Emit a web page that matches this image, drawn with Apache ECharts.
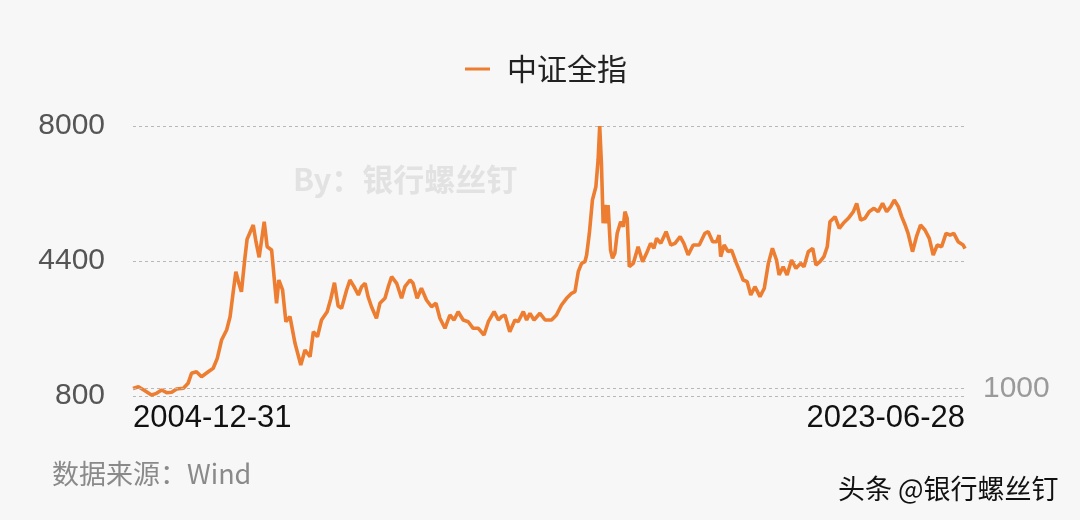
<!DOCTYPE html>
<html>
<head>
<meta charset="utf-8">
<script src="https://cdn.jsdelivr.net/npm/echarts@6/dist/echarts.min.js"></script>
<style>
html,body{margin:0;padding:0;background:#f7f7f7;}
#chart{width:1080px;height:520px;}
</style>
</head>
<body>
<div id="chart"></div>
<script>
const seriesName = '中证全指';
const dates = [
'2004-12-31','2005-02-13','2005-04-07','2005-05-30','2005-07-10','2005-08-20','2005-09-30','2005-11-10','2005-12-20',
'2006-02-13','2006-03-23','2006-04-20','2006-05-30','2006-07-10','2006-09-03','2006-10-13','2006-11-15','2006-12-20',
'2007-01-30','2007-02-27','2007-03-23','2007-04-15','2007-05-09','2007-05-30','2007-06-27','2007-07-15','2007-09-03','2007-09-25','2007-10-21','2007-12-01','2007-12-25',
'2008-01-30','2008-03-10','2008-03-29','2008-04-28','2008-05-25','2008-06-27','2008-08-07','2008-09-23','2008-10-27','2008-12-07',
'2009-01-03','2009-02-05','2009-03-10','2009-04-25','2009-05-25','2009-06-23','2009-07-23','2009-08-20','2009-09-30','2009-10-27','2009-11-29',
'2010-01-03','2010-01-30','2010-02-27','2010-03-23','2010-04-20','2010-05-30','2010-06-27','2010-08-07','2010-09-03','2010-09-30','2010-11-10','2010-12-20',
'2011-01-16','2011-02-27','2011-03-23','2011-04-25','2011-05-30','2011-07-10','2011-08-20','2011-09-25','2011-10-27','2011-12-07',
'2012-01-16','2012-02-19','2012-03-23','2012-05-03','2012-06-13','2012-07-23','2012-09-03','2012-10-19','2012-11-23',
'2013-01-09','2013-02-13','2013-03-10','2013-04-07','2013-05-16','2013-06-27','2013-07-23','2013-09-03','2013-09-30','2013-10-27','2013-11-29',
'2014-01-16','2014-02-27','2014-04-20','2014-05-30','2014-07-10','2014-08-20','2014-09-30','2014-10-27','2014-11-23','2014-12-20',
'2015-01-16','2015-01-30','2015-02-21','2015-03-18','2015-04-15','2015-05-03','2015-05-16','2015-05-30','2015-06-13','2015-06-27','2015-07-10','2015-07-23','2015-08-12','2015-08-28','2015-09-16','2015-10-05','2015-11-02','2015-11-23','2015-12-07','2015-12-25',
'2016-01-11','2016-02-13','2016-03-23','2016-04-28','2016-05-30','2016-07-02','2016-07-29','2016-08-20','2016-09-23','2016-11-05','2016-12-13',
'2017-01-16','2017-02-27','2017-03-29','2017-05-03','2017-06-13','2017-08-01','2017-09-16','2017-10-13','2017-11-18','2017-12-20',
'2018-01-09','2018-01-22','2018-02-19','2018-03-23','2018-04-20','2018-05-30','2018-06-27','2018-07-23','2018-08-25','2018-09-23','2018-10-27','2018-12-07',
'2019-01-11','2019-02-13','2019-03-18','2019-04-20','2019-05-11','2019-06-13','2019-07-15','2019-08-20','2019-09-25','2019-11-02','2019-11-29',
'2020-01-03','2020-02-08','2020-03-05','2020-04-07','2020-05-09','2020-06-05','2020-06-27','2020-08-07','2020-09-11','2020-10-13','2020-11-23',
'2021-01-03','2021-01-30','2021-03-03','2021-04-07','2021-05-11','2021-06-19','2021-07-23','2021-08-28','2021-09-30','2021-11-02','2021-12-01',
'2022-01-03','2022-01-30','2022-02-27','2022-03-23','2022-04-28','2022-05-30','2022-07-02','2022-08-07','2022-09-11','2022-10-13','2022-11-15','2022-12-20',
'2023-01-25','2023-02-27','2023-03-29','2023-05-03','2023-06-13','2023-06-28'
];
const values = [
1000,1048,941,827,871,960,888,899,987,
1005,1139,1405,1448,1315,1448,1539,1805,2293,
2560,2915,3539,4115,3805,3581,4472,4978,5360,4915,4498,5448,4781,
4693,3272,3893,3627,2781,2915,2205,1627,2027,1848,
2515,2381,2827,3048,3400,3820,3200,3139,3627,3893,3715,
3493,3715,3805,3449,3181,2872,3272,3405,3715,3981,3805,3405,
3715,3893,3805,3405,3672,3360,3181,3272,2872,2605,
2960,2827,3048,2827,2781,2605,2605,2427,2781,
3048,2827,2915,2960,2515,2827,2781,3048,2827,3005,2827,
3005,2827,2827,2960,3227,3405,3539,3581,4115,4337,
4382,4560,5138,6027,6382,7093,8000,7004,5405,5893,5405,5893,4693,4472,4605,5138,5448,5315,5715,5538,
4248,4337,4781,4382,4605,4871,4738,5005,4871,5182,4827,
4871,5048,4871,4560,4827,4827,5138,5182,4915,4915,
5093,4515,4827,4648,4693,4337,4115,3893,3848,3493,3715,3449,
3672,4337,4738,4427,4027,4248,4027,4427,4205,4337,4248,
4648,4738,4293,4382,4515,4781,5448,5582,5271,5405,5538,
5715,5938,5493,5538,5715,5804,5715,5938,5715,5849,6027,
5849,5582,5360,5138,4648,5048,5360,5227,5005,4560,4827,4781,
5138,5093,5138,4915,4827,4730
];
const xEnds = ['2004-12-31','2023-06-28'];
const leftTicks = [800, 4400, 8000];
const rightTicks = [1000];

const latin = '"Liberation Sans","Noto Sans CJK SC",sans-serif';
const cjk = '"Noto Sans CJK SC","Liberation Sans",sans-serif';
const gridStyle = {type:[3,3], color:'#b8b8b8', width:1};

const chart = echarts.init(document.getElementById('chart'), null, {renderer:'canvas'});
const ts = s => Date.UTC(+s.slice(0,4), +s.slice(5,7)-1, +s.slice(8,10));
const fmt = v => { const d = new Date(v); const p = n => String(n).padStart(2,'0');
  return d.getUTCFullYear() + '-' + p(d.getUTCMonth()+1) + '-' + p(d.getUTCDate()); };

chart.setOption({
  backgroundColor:'#f7f7f7',
  animation:false,
  grid:{left:133, right:115, top:126, bottom:124},
  legend:{
    left:460, top:49, icon:'rect', itemWidth:25, itemHeight:3,
    textStyle:{fontSize:30, color:'#222', fontFamily:cjk, padding:[0,0,0,12]},
    data:[seriesName]
  },
  xAxis:{
    type:'value', min:ts(xEnds[0]), max:ts(xEnds[1]),
    axisLine:{show:false}, axisTick:{show:false}, splitLine:{show:false},
    axisLabel:{
      customValues: xEnds.map(ts),
      alignMinLabel:'left', alignMaxLabel:'right',
      margin:7, fontSize:31, color:'#111', fontFamily:latin,
      formatter: fmt
    }
  },
  yAxis:[{
    type:'value', min:leftTicks[0], max:leftTicks[2], interval:leftTicks[1]-leftTicks[0],
    axisLine:{show:false}, axisTick:{show:false},
    axisLabel:{fontSize:30, color:'#555', margin:28, fontFamily:latin, formatter: v => String(v)},
    splitLine:{show:true, lineStyle:gridStyle}
  },{
    type:'value', position:'right', min:leftTicks[0], max:leftTicks[2],
    axisLine:{show:false}, axisTick:{show:false}, splitLine:{show:false},
    axisLabel:{customValues:rightTicks, fontSize:30, color:'#9a9a9a', margin:18, fontFamily:latin, formatter: v => String(v)}
  }],
  series:[{
    name:seriesName, type:'line', yAxisIndex:0, showSymbol:false, symbol:'none',
    data: dates.map((d,i)=>[ts(d), values[i]]),
    lineStyle:{color:'#ED7D31', width:3.6},
    itemStyle:{color:'#ED7D31'},
    markLine:{silent:true, symbol:'none', label:{show:false},
      lineStyle:gridStyle, data: rightTicks.map(v=>({yAxis:v}))}
  }],
  graphic:[
    {type:'text', left:293, top:164, style:{text:'By：银行螺丝钉', font:'bold 31px "Noto Sans CJK SC", sans-serif', fill:'#e2e2e2'}},
    {type:'text', left:52, top:460, style:{text:'数据来源：Wind', font:'27px "Noto Sans CJK SC", sans-serif', fill:'#8a8a8a'}},
    {type:'text', left:838, top:475, style:{text:'头条 @银行螺丝钉', font:'27px "Noto Sans CJK SC", sans-serif', fill:'#111', textShadowColor:'#ffffff', textShadowBlur:0, textShadowOffsetX:1, textShadowOffsetY:1}}
  ]
});
</script>
</body>
</html>
